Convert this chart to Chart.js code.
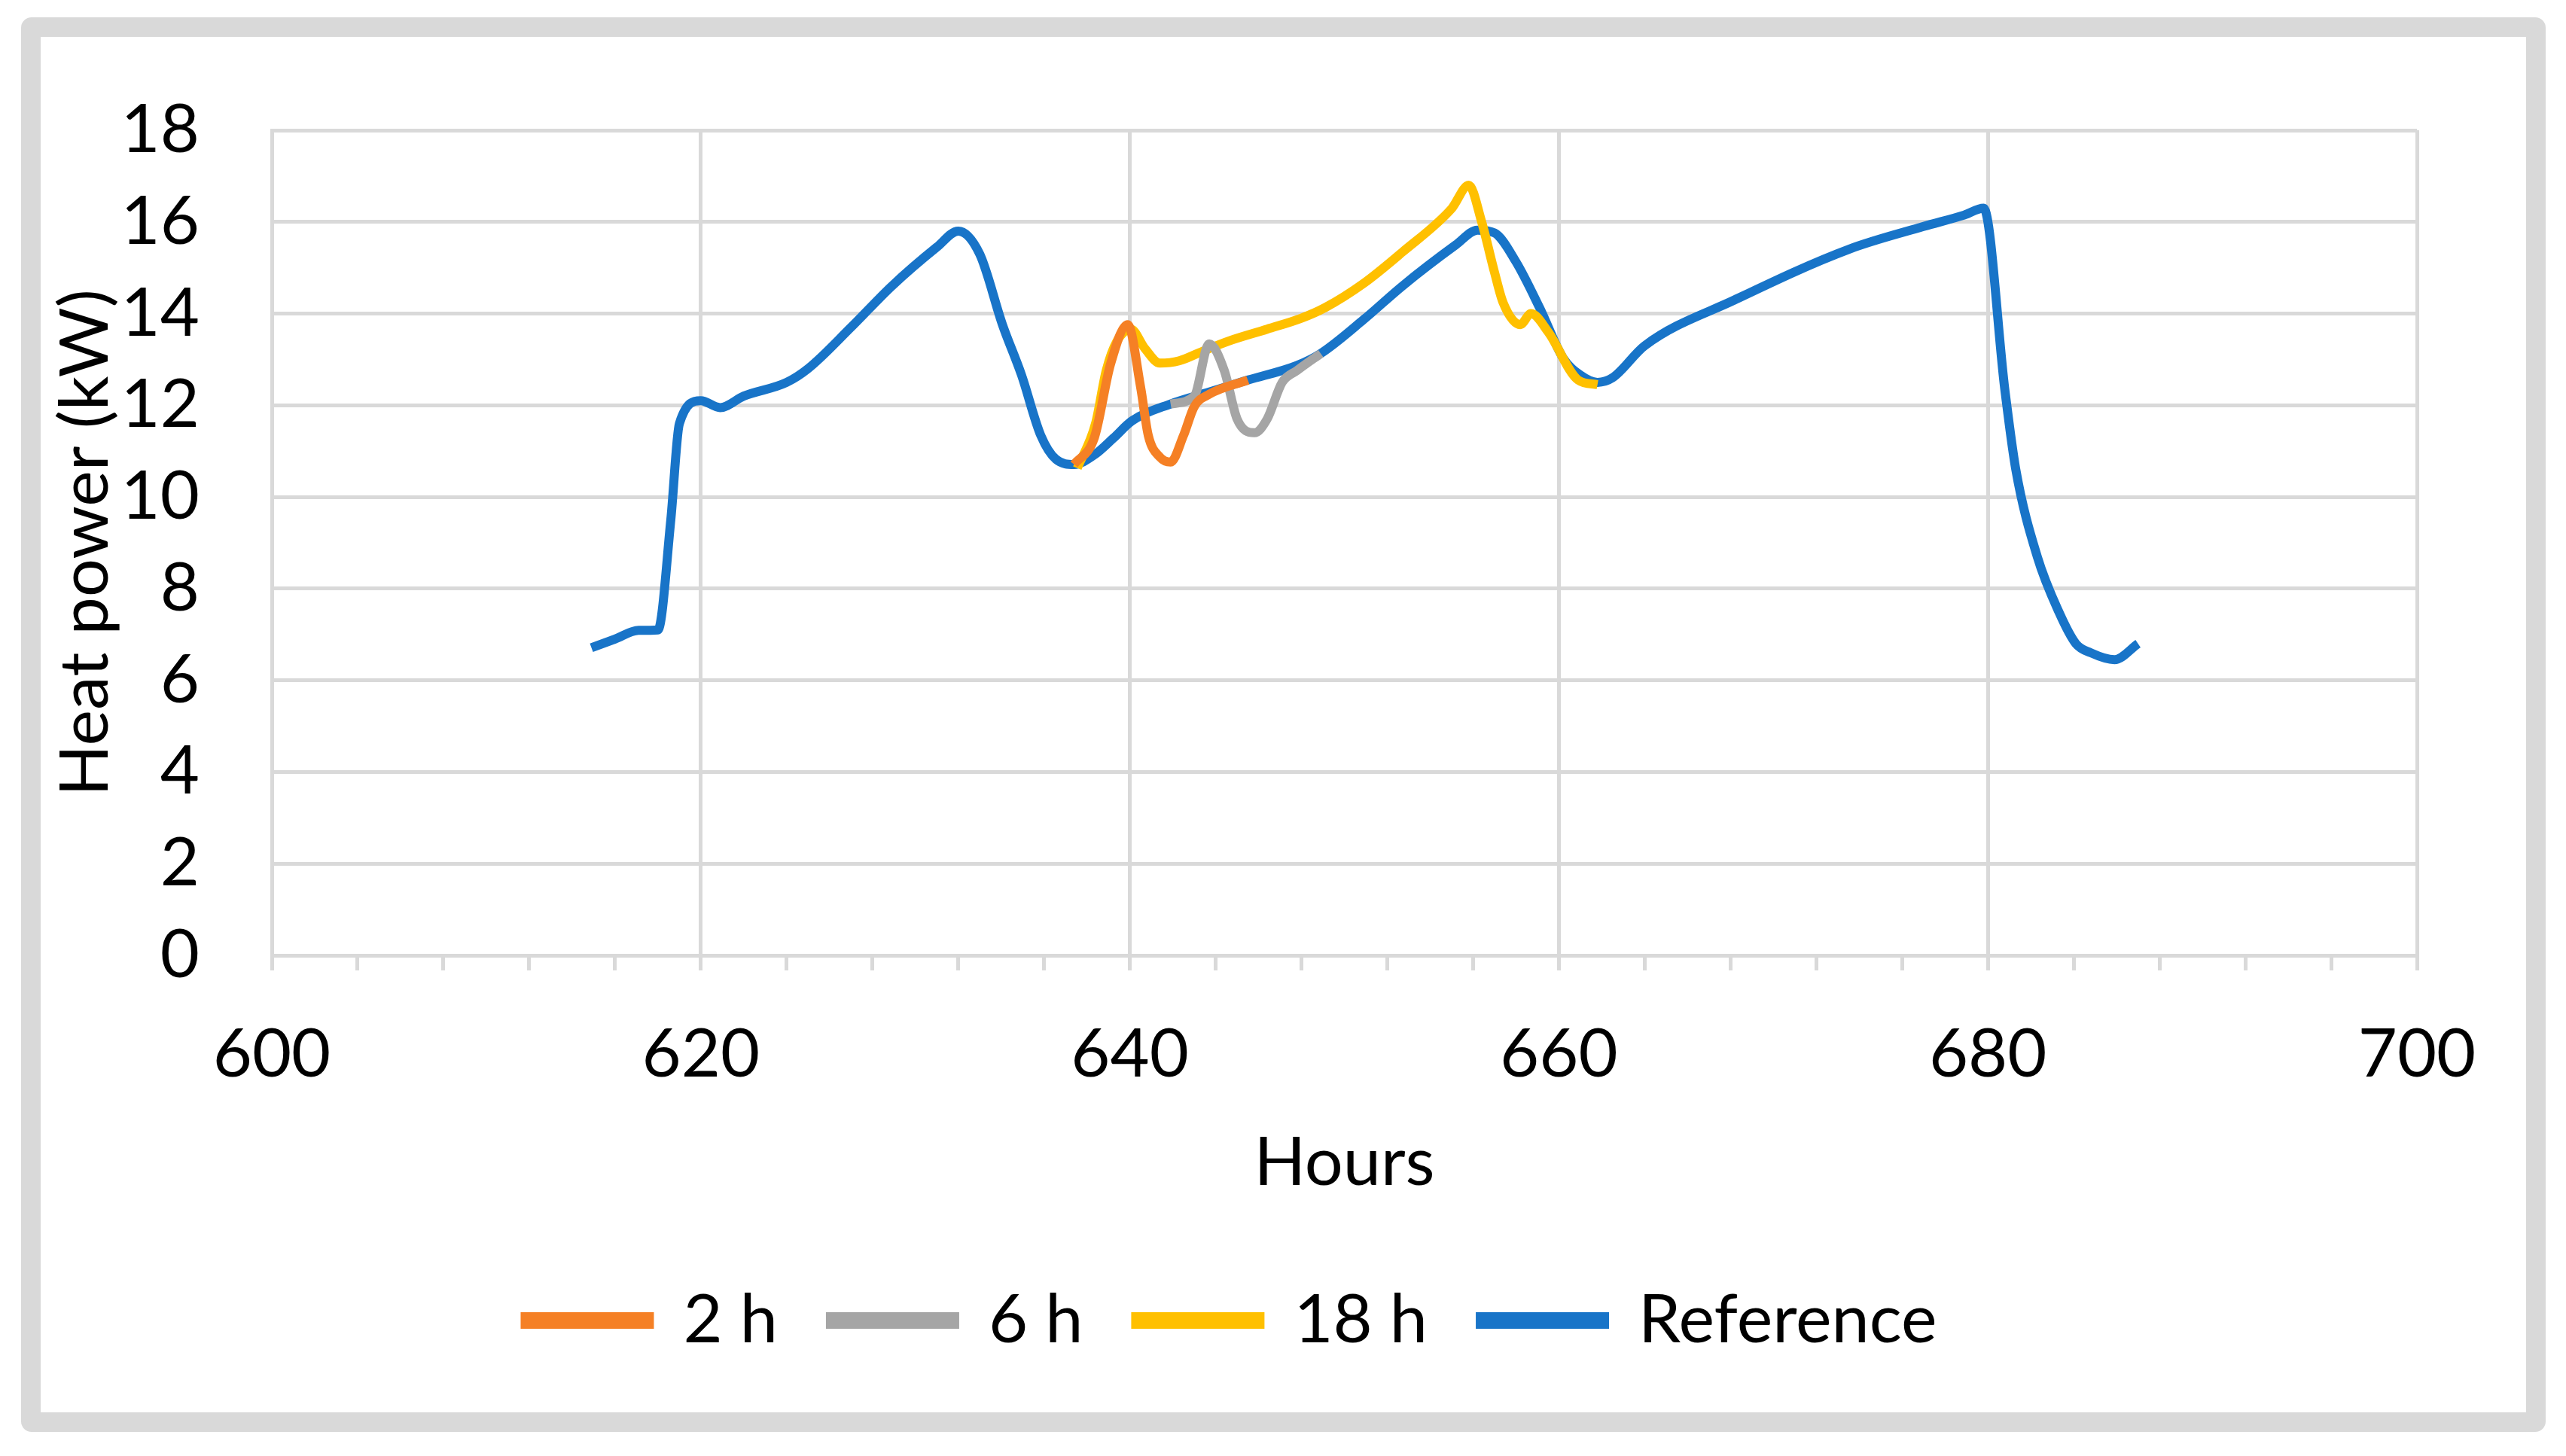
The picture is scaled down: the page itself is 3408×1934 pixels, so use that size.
<!DOCTYPE html>
<html>
<head>
<meta charset="utf-8">
<script src="https://cdn.jsdelivr.net/npm/chart.js@4.4.1/dist/chart.umd.min.js"></script>
<style>
  body { margin: 0; background: #fff; }
  #wrap { position: relative; width: 3408px; height: 1934px; }
  #frame { position: absolute; left: 28px; top: 23px; width: 3301px; height: 1827px;
           border: 26px solid #d9d9d9; border-radius: 14px; pointer-events: none; }
</style>
</head>
<body>
<div id="wrap">
  <canvas id="heatChart" width="3408" height="1934"></canvas>
  <div id="frame"></div>
</div>
<script>
// values
const refHours = [614.9, 616, 617.1, 618, 618.6, 619, 620, 620.9, 622, 624, 625, 627, 628.9, 631, 632, 633,
  634.06, 634.95, 635.85, 636.56, 637.4, 638.35, 639.25, 640.1, 641.9, 643.7, 645.5, 647.8, 648.9, 650.9,
  652.7, 655.2, 656.2, 657, 658, 659.1, 660.2, 661, 661.8, 662.5, 664, 668.2, 673.5, 677, 678.9, 679.8,
  680.8, 681.3, 682.3, 683.3, 684.1, 684.8, 685.9, 687];
const refPower = [6.71, 6.9, 7.09, 7.1, 9.5, 11.6, 12.1, 11.95, 12.2, 12.5, 12.8, 13.7, 14.6, 15.45, 15.8, 15.3,
  13.76, 12.66, 11.34, 10.82, 10.71, 10.92, 11.29, 11.66, 12.03, 12.29, 12.55, 12.87, 13.13, 13.87,
  14.6, 15.5, 15.82, 15.76, 15.13, 14.13, 13.03, 12.66, 12.5, 12.6, 13.3, 14.3, 15.4, 15.9, 16.15, 16.3,
  12.3, 10.6, 8.7, 7.5, 6.8, 6.6, 6.45, 6.8];

const h2Hours = [637.4, 638.35, 639.1, 639.9, 640.5, 640.86, 641.4, 641.9, 642.5, 643.0, 643.7, 645.5];
const h2Power = [10.71, 11.3, 12.9, 13.76, 12.4, 11.34, 10.87, 10.76, 11.34, 11.97, 12.24, 12.55];

const h6Hours = [641.9, 643.0, 643.7, 644.4, 645, 645.8, 646.4, 647.1, 647.8, 648.9];
const h6Power = [12.03, 12.2, 13.34, 12.76, 11.7, 11.4, 11.7, 12.5, 12.76, 13.13];

const h18Hours = [637.55, 638.4, 638.9, 639.4, 640.05, 640.7, 641.4, 642.3, 643.4, 644.6, 646.4, 648.0,
  649.1, 650.9, 652.7, 655, 655.8, 656.4, 657, 657.4, 658.2, 658.7, 659.5, 660.9, 661.8];
const h18Power = [10.63, 11.6, 12.76, 13.4, 13.66, 13.24, 12.92, 12.97, 13.18, 13.4, 13.66, 13.9,
  14.13, 14.66, 15.34, 16.29, 16.8, 16.0, 14.9, 14.24, 13.76, 14.0, 13.6, 12.55, 12.45];

const seriesNames = ['2 h', '6 h', '18 h', 'Reference'];
const seriesColors = ['#f58025', '#a5a5a5', '#ffc000', '#1874c8'];
const xTicks = [600, 620, 640, 660, 680, 700];
const yTicks = [0, 2, 4, 6, 8, 10, 12, 14, 16, 18];

function toPoints(xs, ys) {
  return xs.map((x, i) => ({ x: x, y: ys[i] }));
}

const allSeries = [
  toPoints(h2Hours, h2Power),
  toPoints(h6Hours, h6Power),
  toPoints(h18Hours, h18Power),
  toPoints(refHours, refPower)
];

const ctx = document.getElementById('heatChart').getContext('2d');
const font = { family: 'Lato, "Open Sans", sans-serif', size: 90 };

new Chart(ctx, {
  type: 'line',
  data: {
    datasets: allSeries.map((pts, i) => ({
      label: seriesNames[i],
      data: pts,
      borderColor: seriesColors[i],
      backgroundColor: seriesColors[i],
      borderWidth: 12,
      pointRadius: 0,
      tension: 0.4,
      cubicInterpolationMode: 'monotone',
      fill: false
    }))
  },
  options: {
    responsive: false,
    animation: false,
    devicePixelRatio: 1,
    layout: { padding: { left: 60, right: 198, top: 173, bottom: 125 } },
    plugins: {
      tooltip: { enabled: false },
      legend: {
        position: 'bottom',
        labels: {
          font: font,
          color: '#000',
          boxWidth: 165,
          boxHeight: 10,
          padding: 70
        }
      }
    },
    scales: {
      x: {
        type: 'linear',
        min: 600,
        max: 700,
        afterFit: s => { s.height = 370; },
        afterBuildTicks: s => {
          const t = [];
          for (let v = 600; v <= 700; v += 4) t.push({ value: v });
          xTicks.forEach(v => { if (!t.find(o => o.value === v)) t.push({ value: v }); });
          t.sort((a, b) => a.value - b.value);
          s.ticks = t;
        },
        ticks: {
          font: font,
          color: '#000',
          padding: 58,
          maxRotation: 0,
          autoSkip: false,
          callback: v => (xTicks.includes(v) ? String(v) : '')
        },
        grid: {
          color: c => (xTicks.includes(c.tick && c.tick.value) && c.tick.value !== 600 ? '#d9d9d9' : 'rgba(0,0,0,0)'),
          lineWidth: 5,
          tickColor: '#d9d9d9',
          tickLength: 20,
          drawTicks: true
        },
        border: { color: '#d9d9d9', width: 5 },
        title: {
          display: true,
          text: 'Hours',
          font: font,
          color: '#000',
          padding: { top: 0, bottom: 40 }
        }
      },
      y: {
        min: 0,
        max: 18,
        afterFit: s => { s.width = 301; },
        afterBuildTicks: s => { s.ticks = yTicks.map(v => ({ value: v })); },
        ticks: { font: font, color: '#000', padding: 96 },
        grid: { color: '#d9d9d9', lineWidth: 5, drawTicks: false },
        border: { color: '#d9d9d9', width: 5 },
        title: {
          display: true,
          text: 'Heat power (kW)',
          font: font,
          color: '#000',
          padding: { top: 0, bottom: 15 }
        }
      }
    }
  }
});
</script>
</body>
</html>
